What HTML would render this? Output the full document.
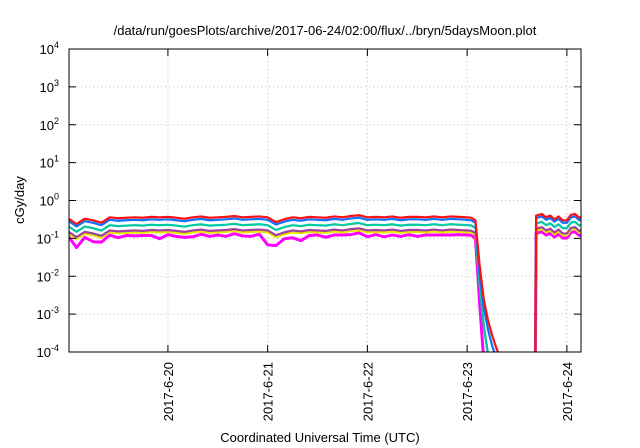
<!DOCTYPE html>
<html><head><meta charset="utf-8"><style>
body{margin:0;background:#fff}
svg{display:block;font-family:"Liberation Sans",sans-serif}
</style></head><body>
<svg id="chart" width="640" height="448">
<text x="325" y="35" font-size="13" text-anchor="middle">/data/run/goesPlots/archive/2017-06-24/02:00/flux/../bryn/5daysMoon.plot</text>
<text x="320" y="442" font-size="13" text-anchor="middle">Coordinated Universal Time (UTC)</text>
<text transform="translate(24,200) rotate(-90)" font-size="13" text-anchor="middle">cGy/day</text>
<g id="grid"></g>
<defs><clipPath id="clip"><rect x="69" y="49" width="512" height="303"/></clipPath></defs>
<g id="series" clip-path="url(#clip)"></g>
<rect x="69" y="49" width="512" height="303" fill="none" stroke="#000" stroke-width="1"/>
<g id="axes"></g>
</svg>
<script>
// hours since 2017-06-19 00:00, step 2h from 0 to 96
const baseHours = [0,2,4,6,8,10,12,14,16,18,20,22,24,26,28,30,32,34,36,38,40,42,44,46,48,50,52,54,56,58,60,62,64,66,68,70,72,74,76,78,80,82,84,86,88,90,92,94,96];
const redValues = [0.34,0.24,0.33,0.3,0.26,0.36,0.34,0.35,0.36,0.35,0.37,0.36,0.37,0.35,0.33,0.36,0.38,0.35,0.36,0.37,0.39,0.36,0.37,0.38,0.36,0.27,0.32,0.36,0.34,0.37,0.36,0.35,0.38,0.36,0.39,0.41,0.36,0.37,0.36,0.38,0.35,0.37,0.37,0.36,0.38,0.36,0.38,0.37,0.36];
const magentaDip = [1,0.7,0.95,0.8,0.9,1,0.9,1,0.95,1,0.95,0.8,1,0.95,0.95,0.9,1,0.95,1,0.9,1,0.95,0.9,1,0.55,0.7,0.9,0.85,0.75,0.95,1,0.9,0.95,1,0.95,1,0.9,1,0.9,0.95,0.95,1,0.9,1,0.95,1,0.95,1,1];
const seriesNames = ["magenta","yellow","purple","cyan","blue","red"];
const seriesColors = ["#ff00ff","#e8e800","#a040a0","#00c8a0","#1070ff","#ff1010"];
const seriesRatios = [0.34,0.4,0.45,0.62,0.86,1];
const decayHours = [97,98,99,100,101,102,103,104,105];
const decayRed = [0.35,0.3,0.02,0.0025,0.0007,0.00028,0.00013,0.00007,0.00004];
const decayBlue = [0.3,0.26,0.012,0.0015,0.0004,0.00015,0.00007,0.00004,0.00003];
const decayCyan = [0.22,0.19,0.006,0.0005,0.00009,0.00004,0.00003,0.00003,0.00003];
const decayMagenta = [0.12,0.1,0.002,0.00006,0.00003,0.00003,0.00003,0.00003,0.00003];
const recoverHours = [112.4,112.6,114,115,116,117,118,119,120,121,122,123,124];
const recoverRed = [0.00003,0.4,0.44,0.36,0.4,0.32,0.38,0.3,0.3,0.42,0.44,0.35,0.4];
const xTickLabels = ["2017-6-20","2017-6-21","2017-6-22","2017-6-23","2017-6-24"];
const xTickHours = [24,48,72,96,120];
const yExps = [-4,-3,-2,-1,0,1,2,3,4];

const L=69,R=581,T=49,B=352,H0=0.2,H1=123.4;
const xs=h=>L+(h-H0)/(H1-H0)*(R-L);
const ys=v=>B-(Math.log10(v)+4)/8*(B-T);
const NS="http://www.w3.org/2000/svg";
function mk(tag,parent){const e=document.createElementNS(NS,tag);parent.appendChild(e);return e;}
const grid=document.getElementById('grid'),axes=document.getElementById('axes'),ser=document.getElementById('series');
yExps.forEach(e=>{
  const y=ys(Math.pow(10,e));
  if(e>-4&&e<4){const g=mk('line',grid);
    
    
    g.setAttribute('x1',L);g.setAttribute('x2',R);g.setAttribute('y1',y);g.setAttribute('y2',y);g.setAttribute('stroke','#bbb');g.setAttribute('stroke-dasharray','1,3');}
  const tk=mk('path',axes);
  
  
  tk.setAttribute('d',`M${L},${y}h7M${R},${y}h-7`);tk.setAttribute('stroke','#000');
  const t=mk('text',axes);
  
  
  t.setAttribute('x',L-10);t.setAttribute('y',y+5);t.setAttribute('text-anchor','end');t.setAttribute('font-size','13');
  t.innerHTML=`10<tspan dy="-6" font-size="9">${e}</tspan>`;
});
xTickHours.forEach((h,i)=>{
  const x=xs(h);
  const g=mk('line',grid);
  
  
  g.setAttribute('x1',x);g.setAttribute('x2',x);g.setAttribute('y1',T);g.setAttribute('y2',B);g.setAttribute('stroke','#bbb');g.setAttribute('stroke-dasharray','1,3');
  const tk=mk('path',axes);
  
  
  tk.setAttribute('d',`M${x},${B}v-7M${x},${T}v7`);tk.setAttribute('stroke','#000');
  const t=mk('text',axes);
  
  
  t.setAttribute('transform',`translate(${x+5},${B+10}) rotate(-90)`);t.setAttribute('text-anchor','end');t.setAttribute('font-size','13');
  t.textContent=xTickLabels[i];
});
const decays=[decayMagenta,decayCyan,decayCyan,decayCyan,decayBlue,decayRed];
seriesNames.forEach((n,si)=>{
  const r=seriesRatios[si];
  let pts=baseHours.map((h,i)=>[h,redValues[i]*r*(si===0?magentaDip[i]:1)]);
  decays[si].forEach((v,i)=>pts.push([decayHours[i],si<4&&si>0&&i<2?v*r/0.62:v]));
  const p1=mk('polyline',ser);
  
  
  p1.setAttribute('points',pts.map(p=>xs(p[0])+','+ys(p[1])).join(' '));
  const p2=mk('polyline',ser);
  
  
  p2.setAttribute('points',recoverHours.map((h,i)=>xs(h)+','+ys(i===0?recoverRed[i]:recoverRed[i]*r)).join(' '));
  [p1,p2].forEach(p=>{p.setAttribute('fill','none');p.setAttribute('stroke',seriesColors[si]);p.setAttribute('stroke-width',si===0?3:2.2);p.setAttribute('stroke-linejoin','round');});
});
</script>
</body></html>
